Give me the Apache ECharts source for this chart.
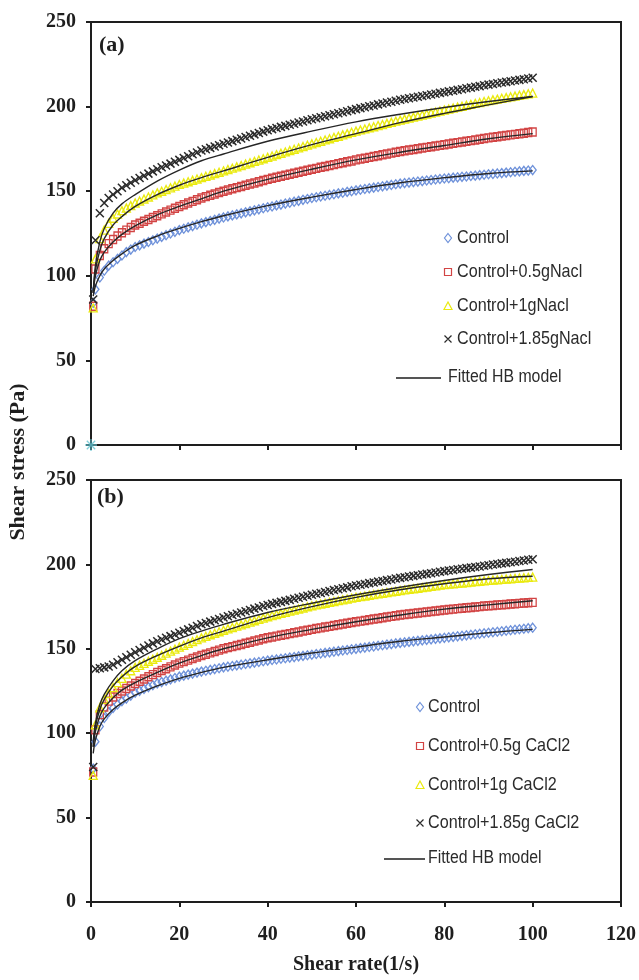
<!DOCTYPE html>
<html><head><meta charset="utf-8">
<script src="https://cdn.jsdelivr.net/npm/echarts@6/dist/echarts.min.js"></script>
<style>html,body{margin:0;padding:0;background:#fff}#c{width:639px;height:980px}</style>
</head><body><div id="c"></div><script>
// ---------- data ----------
const shearRate = [0.5,1,2,3,4,5,6,7,8,9,10,11,12,13,14,15,16,17,18,19,20,21,22,23,24,25,26,27,28,29,30,31,32,33,34,35,36,37,38,39,40,41,42,43,44,45,46,47,48,49,50,51,52,53,54,55,56,57,58,59,60,61,62,63,64,65,66,67,68,69,70,71,72,73,74,75,76,77,78,79,80,81,82,83,84,85,86,87,88,89,90,91,92,93,94,95,96,97,98,99,100];
const fitRate = [0.5,1,2,3,5,7,10,15,20,25,30,40,50,60,70,80,90,100];
const xTickValues = [0,20,40,60,80,100,120];
const yTickValues = [0,50,100,150,200,250];
const namesA = ['Control','Control+0.5gNacl','Control+1gNacl','Control+1.85gNacl'];
const namesB = ['Control','Control+0.5g CaCl2','Control+1g CaCl2','Control+1.85g CaCl2'];
const fitName = 'Fitted HB model';

// panel (a) NaCl
const controlA = [84,92,99,103,106,108,110,112,114,115.5,117,118,119,120,121,122,123,124,125,126,127,127.8,128.6,129.4,130.2,131,131.7,132.4,133.1,133.8,134.5,135.1,135.7,136.3,136.9,137.5,138.1,138.7,139.3,139.9,140.5,141,141.6,142.1,142.7,143.2,143.8,144.3,144.9,145.4,146,146.4,146.9,147.3,147.8,148.2,148.7,149.1,149.6,150,150.5,150.9,151.3,151.7,152.1,152.5,152.9,153.3,153.7,154.1,154.5,154.8,155.1,155.4,155.7,156,156.3,156.6,156.9,157.2,157.5,157.7,158,158.2,158.5,158.7,159,159.2,159.5,159.7,160,160.2,160.5,160.7,161,161.2,161.5,161.7,162,162.2,162.5];
const nacl05A = [82,104,112,116,119,121.5,123.5,125.5,127,128.5,130,131.1,132.2,133.3,134.4,135.5,136.6,137.7,138.8,139.9,141,142,143,144,145,146,146.8,147.6,148.4,149.2,150,150.7,151.4,152.1,152.8,153.5,154.2,154.9,155.6,156.3,157,157.6,158.2,158.8,159.4,160,160.6,161.2,161.8,162.4,163,163.5,164.1,164.6,165.2,165.7,166.3,166.8,167.4,167.9,168.5,169,169.5,170,170.5,171,171.5,172,172.5,173,173.5,173.9,174.3,174.7,175.1,175.5,175.9,176.3,176.7,177.1,177.5,177.9,178.3,178.7,179.1,179.5,179.9,180.3,180.7,181.1,181.5,181.9,182.2,182.6,182.9,183.3,183.6,184,184.3,184.7,185];
const nacl1A = [81,110,122,127,131,134,136.5,138.5,140,141.5,143,144.2,145.4,146.6,147.8,149,150,151,152,153,154,154.8,155.6,156.4,157.2,158,158.8,159.6,160.4,161.2,162,162.8,163.6,164.4,165.2,166,166.8,167.6,168.4,169.2,170,170.8,171.6,172.4,173.2,174,174.8,175.6,176.4,177.2,178,178.8,179.5,180.3,181,181.8,182.5,183.3,184,184.8,185.5,186.2,186.8,187.5,188.1,188.8,189.4,190.1,190.7,191.4,192,192.6,193.2,193.8,194.4,195,195.6,196.2,196.8,197.4,198,198.6,199.1,199.7,200.2,200.8,201.3,201.9,202.4,203,203.5,204,204.4,204.9,205.3,205.8,206.2,206.7,207.1,207.6,208];
const nacl185A = [86,121,137,143,146,148,150,152,153.5,155,156.5,157.8,159.1,160.4,161.7,163,164.1,165.2,166.3,167.4,168.5,169.6,170.7,171.8,172.9,174,174.8,175.6,176.4,177.2,178,178.8,179.6,180.4,181.2,182,182.8,183.6,184.4,185.2,186,186.7,187.3,188,188.6,189.3,189.9,190.6,191.2,191.9,192.5,193.1,193.7,194.3,194.9,195.5,196.1,196.7,197.3,197.9,198.5,199.1,199.6,200.2,200.7,201.3,201.8,202.4,202.9,203.5,204,204.5,204.9,205.4,205.8,206.3,206.7,207.2,207.6,208.1,208.5,209,209.4,209.9,210.3,210.8,211.2,211.7,212.1,212.6,213,213.4,213.8,214.2,214.6,215,215.4,215.8,216.2,216.6,217];
const originA = [[0,0]];
const fitControlA = [88,94,100,104,109,113,118,123.5,128,132,135.5,141.5,146.5,151,155,158,160.5,162];
const fitNacl05A = [90,100,109,114,120,124.5,129.5,136,141,145.5,150,157,163,168.5,173,177,181,184];
const fitNacl1A = [90,103,115,122,130,135,141,148,153.5,158,162,170,177.5,184,190.5,196,201,206];
const fitNacl185A = [90,106,120,128,137,142.5,148,156,162.5,168,172,179.5,185.5,191,195.5,199.5,203,206];

// panel (b) CaCl2
const controlB = [79,95,104,109,112.5,115,117,119,120.5,122.3,124,125.1,126.2,127.3,128.4,129.5,130.3,131.1,131.9,132.7,133.5,134.1,134.7,135.3,135.9,136.5,137,137.5,138,138.5,139,139.4,139.8,140.2,140.6,141,141.4,141.8,142.2,142.6,143,143.4,143.7,144.1,144.4,144.8,145.1,145.5,145.8,146.2,146.5,146.9,147.2,147.6,147.9,148.3,148.6,149,149.3,149.7,150,150.4,150.7,151.1,151.4,151.8,152.1,152.5,152.8,153.2,153.5,153.8,154.1,154.4,154.7,155,155.3,155.6,155.9,156.2,156.5,156.8,157.1,157.4,157.7,158,158.3,158.6,158.9,159.2,159.5,159.8,160.1,160.4,160.7,161,161.3,161.6,161.9,162.2,162.5];
const cacl05B = [77,102,111,115.5,119,121.5,123.5,125,126.5,128,129.5,130.8,132.1,133.4,134.7,136,137.1,138.2,139.3,140.4,141.5,142.4,143.3,144.2,145.1,146,146.8,147.6,148.4,149.2,150,150.7,151.3,152,152.6,153.3,153.9,154.6,155.2,155.9,156.5,157,157.5,158,158.5,159,159.5,160,160.5,161,161.5,162,162.4,162.9,163.3,163.8,164.2,164.7,165.1,165.6,166,166.4,166.8,167.2,167.6,168,168.4,168.8,169.2,169.6,170,170.3,170.6,170.9,171.2,171.5,171.8,172.1,172.4,172.7,173,173.3,173.5,173.8,174,174.3,174.5,174.8,175,175.3,175.5,175.7,175.9,176.1,176.3,176.5,176.7,176.9,177.1,177.3,177.5];
const cacl1B = [75,105,115,120,123.5,127,130,132.5,135,137,139,140.2,141.4,142.6,143.8,145,146.2,147.4,148.6,149.8,151,152.1,153.2,154.3,155.4,156.5,157.4,158.3,159.2,160.1,161,161.8,162.6,163.4,164.2,165,165.8,166.6,167.4,168.2,169,169.7,170.3,171,171.6,172.3,172.9,173.6,174.2,174.9,175.5,176,176.5,177,177.5,178,178.5,179,179.5,180,180.5,180.9,181.3,181.7,182.1,182.5,182.9,183.3,183.7,184.1,184.5,184.9,185.2,185.6,185.9,186.3,186.6,187,187.3,187.7,188,188.3,188.5,188.8,189,189.3,189.5,189.8,190,190.3,190.5,190.7,190.9,191.1,191.3,191.5,191.7,191.9,192.1,192.3,192.5];
const cacl185B = [80,138,138.5,139,139.5,140.5,142,143.5,145,146.5,148,149.3,150.6,151.9,153.2,154.5,155.5,156.5,157.5,158.5,159.5,160.5,161.5,162.5,163.5,164.5,165.3,166.1,166.9,167.7,168.5,169.3,170,170.8,171.5,172.3,173,173.8,174.5,175.3,176,176.6,177.2,177.8,178.4,179,179.6,180.2,180.8,181.4,182,182.6,183.1,183.7,184.2,184.8,185.3,185.9,186.4,187,187.5,188,188.4,188.9,189.3,189.8,190.2,190.7,191.1,191.6,192,192.4,192.8,193.2,193.6,194,194.4,194.8,195.2,195.6,196,196.4,196.7,197.1,197.4,197.8,198.1,198.5,198.8,199.2,199.5,199.9,200.2,200.6,200.9,201.3,201.6,202,202.3,202.7,203];
const fitControlB = [88,96,104,108.5,114,118,122.5,128,132.5,136,139,143.5,147.5,151,154.5,157,159.5,161.5];
const fitCacl05B = [92,101,110,115,121,125.5,130,136,141.5,146,150,156.5,161.5,166,170,173.5,176,178.5];
const fitCacl1B = [92,104,114,120,128,133.5,139.5,146,151.5,156.5,160.5,168.5,175,180.5,185,188.5,191.5,193];
const fitCacl185B = [95,106,117,123,131,137,143,150,156,160.5,164.5,171.5,177,182,186.5,190.5,194,197];

// ---------- styles ----------
const colors = ['#6f92da','#d24444','#eaea10','#2a2a2a'];
const symbols = ['diamond','rect','triangle','path://M0,0L10,10M10,0L0,10'];
const sizes = [[7,9],[7,8],[8,8],[8,8]];
const serif = "'Liberation Serif','Times New Roman',serif";
const ink = '#1e1e1e';
const legendInk = '#2b2b2b';

function pts(xs, ys){ return xs.map((x,i)=>[x, ys[i]]); }

function markerSeries(name, ys, k, gi){
  return {type:'scatter', name, xAxisIndex:gi, yAxisIndex:gi, data:pts(shearRate, ys),
    symbol:symbols[k], symbolSize:sizes[k], z:2,
    itemStyle:{color:'rgba(255,255,255,0)', borderColor:colors[k], borderWidth:k===3?1.5:1.35, opacity:1},
    emphasis:{disabled:true}, animation:false};
}
function fitSeries(ys, gi){
  return {type:'line', name:fitName, xAxisIndex:gi, yAxisIndex:gi, data:pts(fitRate, ys),
    smooth:0.35, showSymbol:false, symbol:'none', z:3,
    lineStyle:{color:'#262626', width:1.4}, itemStyle:{color:'#555'},
    emphasis:{disabled:true}, animation:false};
}

const series = [];
[controlA,nacl05A,nacl1A,nacl185A].forEach((d,k)=>series.push(markerSeries(namesA[k], d, k, 0)));
[controlB,cacl05B,cacl1B,cacl185B].forEach((d,k)=>series.push(markerSeries(namesB[k], d, k, 1)));
series.push({type:'scatter', name:'origin', xAxisIndex:0, yAxisIndex:0, data:originA, clip:false,
  symbol:'path://M5,0L5,10M0,5L10,5M1.5,1.5L8.5,8.5M8.5,1.5L1.5,8.5', symbolSize:12, z:4,
  itemStyle:{color:'rgba(0,0,0,0)', borderColor:'#62c4d2', borderWidth:1.3}, animation:false});
[fitControlA,fitNacl05A,fitNacl1A,fitNacl185A].forEach(d=>series.push(fitSeries(d,0)));
[fitControlB,fitCacl05B,fitCacl1B,fitCacl185B].forEach(d=>series.push(fitSeries(d,1)));

function xAxis(gi, showLabels){
  return {type:'value', gridIndex:gi, min:0, max:120, interval:20,
    axisLine:{show:true, onZero:false, lineStyle:{color:ink, width:2}},
    axisTick:{show:true, length:5, inside:false, lineStyle:{color:ink, width:2}},
    splitLine:{show:false},
    axisLabel:{show:showLabels, margin:23, fontFamily:serif, fontWeight:'bold', fontSize:20, color:ink},
    name: showLabels ? 'Shear rate(1/s)' : '', nameLocation:'middle', nameGap:53,
    nameTextStyle:{fontFamily:serif, fontWeight:'bold', fontSize:20, color:ink}};
}
function yAxis(gi){
  return {type:'value', gridIndex:gi, min:0, max:250, interval:50,
    axisLine:{show:true, lineStyle:{color:ink, width:2}},
    axisTick:{show:true, length:5, lineStyle:{color:ink, width:2}},
    splitLine:{show:false},
    axisLabel:{margin:15, fontFamily:serif, fontWeight:'bold', fontSize:20, color:ink}};
}

// legend drawn as graphic groups (condensed text like the original)
function legendIcon(k, cx, cy){
  const c = colors[k];
  const st = {fill:'rgba(255,255,255,0)', stroke:c, lineWidth:1.2};
  if(k===0) return {type:'polygon', shape:{points:[[cx,cy-4.5],[cx+3.5,cy],[cx,cy+4.5],[cx-3.5,cy]]}, style:st};
  if(k===1) return {type:'rect', shape:{x:cx-3.5, y:cy-3.5, width:7, height:7}, style:st};
  if(k===2) return {type:'polygon', shape:{points:[[cx,cy-4],[cx+4,cy+3.5],[cx-4,cy+3.5]]}, style:st};
  return {type:'polyline', shape:{points:[[cx-3.5,cy-3.5],[cx+3.5,cy+3.5],[cx,cy],[cx+3.5,cy-3.5],[cx-3.5,cy+3.5]]}, style:{stroke:c, lineWidth:1.2, fill:null}};
}
function legendText(txt, x, y, size, sx){
  return {type:'text', x, y, scaleX:sx, style:{text:txt, x:0, y:0, font:size+"px 'Liberation Sans', Arial, sans-serif", fill:legendInk, verticalAlign:'middle', align:'left'}};
}
function buildLegend(names, iconX, textX, rowsY, fitLine, fitY){
  const els = [];
  names.forEach((n,k)=>{ els.push(legendIcon(k, iconX, rowsY[k])); els.push(legendText(n, textX, rowsY[k], 19, 0.85)); });
  els.push({type:'line', shape:{x1:fitLine[0], y1:fitY+1, x2:fitLine[1], y2:fitY+1}, style:{stroke:'#555', lineWidth:2}});
  els.push(legendText(fitName, fitLine[2], fitY, 18, 0.88));
  return els;
}

const legendA = buildLegend(namesA, 448, 457, [238,272,306,339], [396,441,448], 377);
const legendB = buildLegend(namesB, 420, 428, [707,746,785,823], [384,425,428], 858);

const option = {
  backgroundColor:'#fff',
  animation:false,
  grid:[
    {left:91, right:18, top:22, height:423, show:true, borderColor:ink, borderWidth:2, backgroundColor:'rgba(0,0,0,0)'},
    {left:91, right:18, top:480, height:422, show:true, borderColor:ink, borderWidth:2, backgroundColor:'rgba(0,0,0,0)'}
  ],
  xAxis:[xAxis(0,false), xAxis(1,true)],
  yAxis:[yAxis(0), yAxis(1)],
  graphic:[
    {type:'text', left:99, top:34, style:{text:'(a)', font:"bold 22px 'Liberation Serif'", fill:ink}},
    {type:'text', left:97, top:486, style:{text:'(b)', font:"bold 22px 'Liberation Serif'", fill:ink}},
    {type:'text', x:7, y:462, rotation:Math.PI/2,
      style:{text:'Shear stress (Pa)', font:"bold 22px 'Liberation Serif'", fill:ink, align:'center', verticalAlign:'top'}},
    ...legendA, ...legendB
  ],
  series
};
const chart = echarts.init(document.getElementById('c'), null, {renderer:'canvas'});
chart.setOption(option);
</script></body></html>
